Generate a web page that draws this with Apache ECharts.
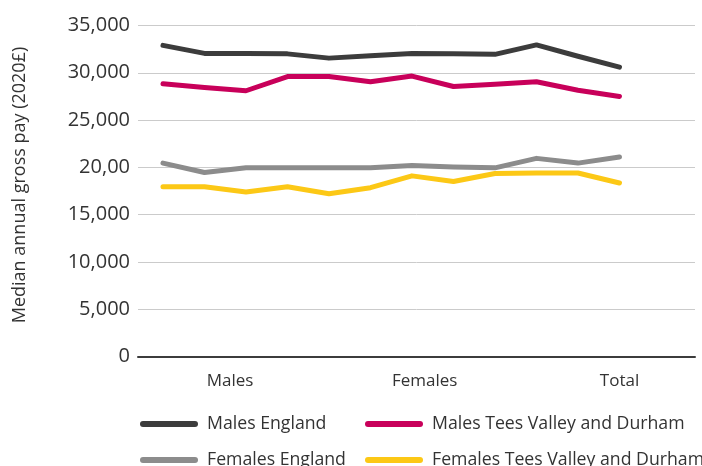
<!DOCTYPE html>
<html>
<head>
<meta charset="utf-8">
<script src="https://cdn.jsdelivr.net/npm/echarts@6/dist/echarts.min.js"></script>
<style>html,body{margin:0;padding:0;background:#fff}#c{width:702px;height:466px}</style>
</head>
<body>
<div id="c"></div>
<script>
// ---- data ----
var groupLabels = ['Males', 'Females', 'Total'];
var yTickLabels = ['0', '5,000', '10,000', '15,000', '20,00', '25,000', '30,000', '35,000'];
var seriesNames = ['Males England', 'Males Tees Valley and Durham', 'Females England', 'Females Tees Valley and Durham'];
var malesEngland   = [32900, 32050, 32050, 32000, 31550, 31800, 32050, 32000, 31950, 32950, 31750, 30600];
var malesTVD       = [28850, 28450, 28100, 29600, 29600, 29050, 29650, 28550, 28800, 29050, 28150, 27500];
var femalesEngland = [20450, 19450, 19950, 19950, 19950, 19950, 20200, 20050, 19950, 20950, 20450, 21100];
var femalesTVD     = [17950, 17950, 17400, 17950, 17200, 17850, 19100, 18500, 19350, 19400, 19400, 18350];

var FONT = 'Open Sans';
function pairs(arr) { return arr.map(function (v, i) { return [i, v]; }); }
var colors = ['#3c3c3c', '#c8005a', '#8c8c8c', '#fcc816'];
var allData = [malesEngland, malesTVD, femalesEngland, femalesTVD];

var chart = echarts.init(document.getElementById('c'), null, {renderer: 'canvas'});
var pill = 'path://M3,0 L55,0 A3,3 0 0 1 55,6 L3,6 A3,3 0 0 1 3,0 Z';
function legendAt(name, left, top) {
  return {
    data: [name], left: left, top: top, padding: 0,
    itemWidth: 58, itemHeight: 6, icon: pill,
    textStyle: {fontFamily: FONT, fontSize: 17.7, color: '#333', padding: [0, 0, 0, 4]}
  };
}
chart.setOption({
  animation: false,
  color: colors,
  grid: [
    {left: 138, right: 7, top: 25.5, bottom: 109.5},
    {left: 230, right: 82.5, top: 25.5, bottom: 109.5}
  ],
  legend: [
    legendAt(seriesNames[0], 140, 415),
    legendAt(seriesNames[1], 365, 415),
    legendAt(seriesNames[2], 140, 451),
    legendAt(seriesNames[3], 365, 451)
  ],
  xAxis: [
    {gridIndex: 0, type: 'value', min: -0.602, max: 12.82,
     axisLine: {show: true, onZero: false, lineStyle: {color: '#3c3c3c', width: 2}},
     axisTick: {show: false}, axisLabel: {show: false}, splitLine: {show: false}},
    {gridIndex: 1, type: 'category', data: groupLabels, boundaryGap: false, position: 'bottom',
     axisLine: {show: false}, axisTick: {show: false}, splitLine: {show: false},
     axisLabel: {fontFamily: FONT, fontSize: 17, color: '#333', margin: 16, interval: 0}}
  ],
  yAxis: [
    {gridIndex: 0, type: 'value', min: 0, max: 35000, interval: 5000,
     name: 'Median annual gross pay (2020\u00a3)', nameLocation: 'middle', nameGap: 109,
     nameTextStyle: {fontFamily: FONT, fontSize: 18, color: '#333', padding: [0, 0, 0, 12]},
     axisLine: {show: false}, axisTick: {show: false},
     axisLabel: {fontFamily: FONT, fontSize: 20, color: '#333', margin: 8,
       formatter: function (v) { return yTickLabels[Math.round(v / 5000)]; }},
     splitLine: {lineStyle: {color: '#cbcbcb', width: 1}}},
    {gridIndex: 1, type: 'value', show: false}
  ],
  series: allData.map(function (d, k) {
    return {
      name: seriesNames[k], type: 'line', xAxisIndex: 0, yAxisIndex: 0,
      data: pairs(d), showSymbol: false, symbol: 'none',
      lineStyle: {width: 5, cap: 'round', join: 'round', color: colors[k]},
      itemStyle: {color: colors[k]}, z: 3
    };
  })
});
</script>
</body>
</html>
